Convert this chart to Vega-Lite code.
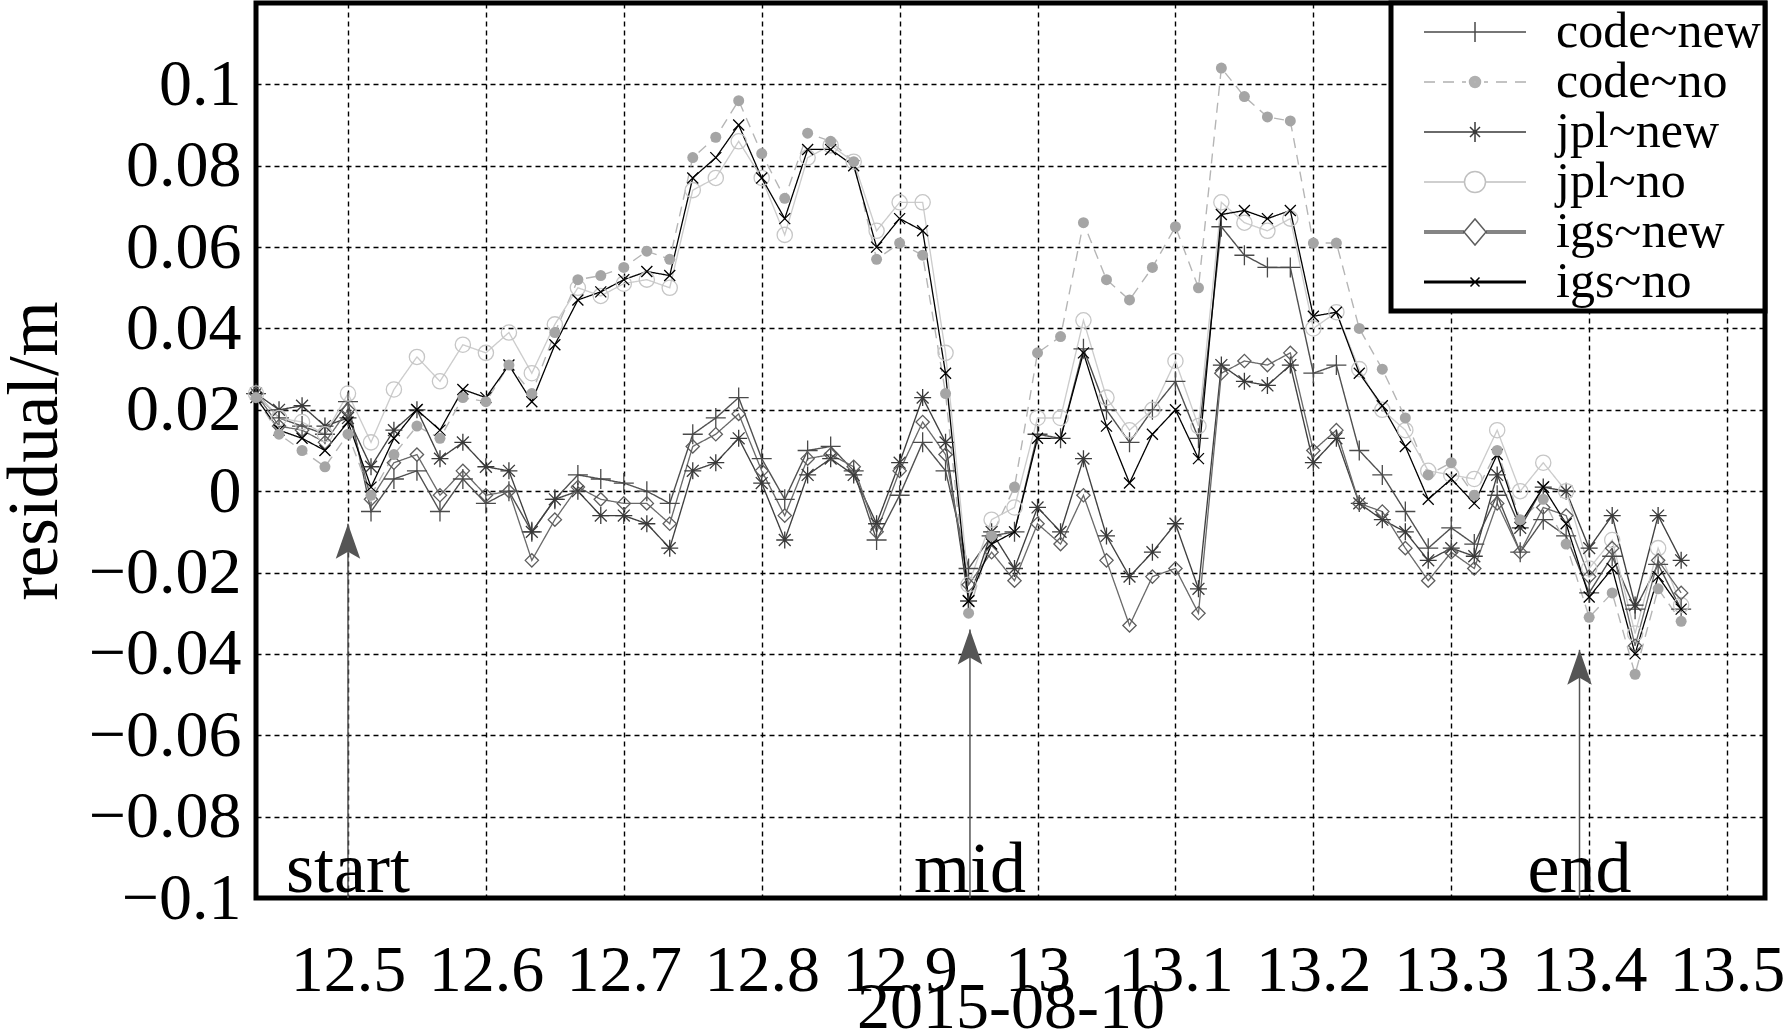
{
"$schema":"https://vega.github.io/schema/vega-lite/v6.json",
"width":1509,"height":895,
"autosize":{"type":"none"},
"padding":{"left":256,"top":3,"right":24,"bottom":133},
"background":"white",
"config":{
 "font":"Liberation Serif",
 "view":{"stroke":"#000","strokeWidth":5},
 "legend":{"strokeWidth":5},
 "axis":{"grid":true,"gridColor":"#000","gridDash":[5,4],"gridWidth":1.4,"gridOpacity":1,"domain":false,"ticks":false,"labelFont":"Liberation Serif","labelFontSize":66,"labelColor":"#000","titleFont":"Liberation Serif","titleFontWeight":"normal","titleColor":"#000"}
},
"datasets":{
"res":[
{"t":12.4333,"code~new":0.024,"code~no":0.023,"jpl~new":0.024,"jpl~no":0.024,"igs~new":0.024,"igs~no":0.023},
{"t":12.45,"code~new":0.018,"code~no":0.014,"jpl~new":0.020,"jpl~no":0.018,"igs~new":0.016,"igs~no":0.015},
{"t":12.4667,"code~new":0.016,"code~no":0.010,"jpl~new":0.021,"jpl~no":0.017,"igs~new":0.015,"igs~no":0.013},
{"t":12.4833,"code~new":0.014,"code~no":0.006,"jpl~new":0.016,"jpl~no":0.014,"igs~new":0.012,"igs~no":0.010},
{"t":12.5,"code~new":0.022,"code~no":0.014,"jpl~new":0.018,"jpl~no":0.024,"igs~new":0.020,"igs~no":0.017},
{"t":12.5167,"code~new":-0.005,"code~no":-0.001,"jpl~new":0.006,"jpl~no":0.012,"igs~new":-0.002,"igs~no":0.001},
{"t":12.5333,"code~new":0.003,"code~no":0.009,"jpl~new":0.015,"jpl~no":0.025,"igs~new":0.007,"igs~no":0.013},
{"t":12.55,"code~new":0.005,"code~no":0.016,"jpl~new":0.020,"jpl~no":0.033,"igs~new":0.009,"igs~no":0.020},
{"t":12.5667,"code~new":-0.005,"code~no":0.013,"jpl~new":0.008,"jpl~no":0.027,"igs~new":-0.001,"igs~no":0.015},
{"t":12.5833,"code~new":0.003,"code~no":0.023,"jpl~new":0.012,"jpl~no":0.036,"igs~new":0.005,"igs~no":0.025},
{"t":12.6,"code~new":-0.003,"code~no":0.022,"jpl~new":0.006,"jpl~no":0.034,"igs~new":-0.001,"igs~no":0.023},
{"t":12.6167,"code~new":0.000,"code~no":0.031,"jpl~new":0.005,"jpl~no":0.039,"igs~new":0.000,"igs~no":0.031},
{"t":12.6333,"code~new":-0.010,"code~no":0.024,"jpl~new":-0.010,"jpl~no":0.029,"igs~new":-0.017,"igs~no":0.022},
{"t":12.65,"code~new":-0.002,"code~no":0.039,"jpl~new":-0.002,"jpl~no":0.041,"igs~new":-0.007,"igs~no":0.036},
{"t":12.6667,"code~new":0.004,"code~no":0.052,"jpl~new":0.000,"jpl~no":0.050,"igs~new":0.001,"igs~no":0.047},
{"t":12.6833,"code~new":0.003,"code~no":0.053,"jpl~new":-0.006,"jpl~no":0.048,"igs~new":-0.002,"igs~no":0.049},
{"t":12.7,"code~new":0.002,"code~no":0.055,"jpl~new":-0.006,"jpl~no":0.051,"igs~new":-0.003,"igs~no":0.052},
{"t":12.7167,"code~new":0.000,"code~no":0.059,"jpl~new":-0.008,"jpl~no":0.052,"igs~new":-0.003,"igs~no":0.054},
{"t":12.7333,"code~new":-0.003,"code~no":0.057,"jpl~new":-0.014,"jpl~no":0.050,"igs~new":-0.008,"igs~no":0.053},
{"t":12.75,"code~new":0.014,"code~no":0.082,"jpl~new":0.005,"jpl~no":0.074,"igs~new":0.011,"igs~no":0.077},
{"t":12.7667,"code~new":0.018,"code~no":0.087,"jpl~new":0.007,"jpl~no":0.077,"igs~new":0.014,"igs~no":0.082},
{"t":12.7833,"code~new":0.023,"code~no":0.096,"jpl~new":0.013,"jpl~no":0.086,"igs~new":0.019,"igs~no":0.090},
{"t":12.8,"code~new":0.008,"code~no":0.083,"jpl~new":0.002,"jpl~no":0.077,"igs~new":0.005,"igs~no":0.077},
{"t":12.8167,"code~new":-0.002,"code~no":0.072,"jpl~new":-0.012,"jpl~no":0.063,"igs~new":-0.006,"igs~no":0.067},
{"t":12.8333,"code~new":0.010,"code~no":0.088,"jpl~new":0.004,"jpl~no":0.082,"igs~new":0.008,"igs~no":0.084},
{"t":12.85,"code~new":0.011,"code~no":0.086,"jpl~new":0.008,"jpl~no":0.085,"igs~new":0.009,"igs~no":0.084},
{"t":12.8667,"code~new":0.005,"code~no":0.081,"jpl~new":0.004,"jpl~no":0.081,"igs~new":0.006,"igs~no":0.080},
{"t":12.8833,"code~new":-0.012,"code~no":0.057,"jpl~new":-0.008,"jpl~no":0.064,"igs~new":-0.010,"igs~no":0.060},
{"t":12.9,"code~new":-0.001,"code~no":0.061,"jpl~new":0.007,"jpl~no":0.071,"igs~new":0.005,"igs~no":0.067},
{"t":12.9167,"code~new":0.012,"code~no":0.058,"jpl~new":0.023,"jpl~no":0.071,"igs~new":0.017,"igs~no":0.064},
{"t":12.9333,"code~new":0.005,"code~no":0.024,"jpl~new":0.012,"jpl~no":0.034,"igs~new":0.009,"igs~no":0.029},
{"t":12.95,"code~new":-0.019,"code~no":-0.030,"jpl~new":-0.027,"jpl~no":-0.023,"igs~new":-0.023,"igs~no":-0.027},
{"t":12.9667,"code~new":-0.011,"code~no":-0.011,"jpl~new":-0.010,"jpl~no":-0.007,"igs~new":-0.015,"igs~no":-0.013},
{"t":12.9833,"code~new":-0.010,"code~no":0.001,"jpl~new":-0.019,"jpl~no":-0.004,"igs~new":-0.022,"igs~no":-0.010},
{"t":13.0,"code~new":0.014,"code~no":0.034,"jpl~new":-0.004,"jpl~no":0.018,"igs~new":-0.008,"igs~no":0.013},
{"t":13.0167,"code~new":0.013,"code~no":0.038,"jpl~new":-0.010,"jpl~no":0.018,"igs~new":-0.013,"igs~no":0.013},
{"t":13.0333,"code~new":0.035,"code~no":0.066,"jpl~new":0.008,"jpl~no":0.042,"igs~new":-0.001,"igs~no":0.034},
{"t":13.05,"code~new":0.020,"code~no":0.052,"jpl~new":-0.011,"jpl~no":0.023,"igs~new":-0.017,"igs~no":0.016},
{"t":13.0667,"code~new":0.012,"code~no":0.047,"jpl~new":-0.021,"jpl~no":0.015,"igs~new":-0.033,"igs~no":0.002},
{"t":13.0833,"code~new":0.020,"code~no":0.055,"jpl~new":-0.015,"jpl~no":0.020,"igs~new":-0.021,"igs~no":0.014},
{"t":13.1,"code~new":0.027,"code~no":0.065,"jpl~new":-0.008,"jpl~no":0.032,"igs~new":-0.019,"igs~no":0.020},
{"t":13.1167,"code~new":0.013,"code~no":0.050,"jpl~new":-0.024,"jpl~no":0.016,"igs~new":-0.030,"igs~no":0.008},
{"t":13.1333,"code~new":0.065,"code~no":0.104,"jpl~new":0.031,"jpl~no":0.071,"igs~new":0.029,"igs~no":0.068},
{"t":13.15,"code~new":0.058,"code~no":0.097,"jpl~new":0.027,"jpl~no":0.066,"igs~new":0.032,"igs~no":0.069},
{"t":13.1667,"code~new":0.055,"code~no":0.092,"jpl~new":0.026,"jpl~no":0.064,"igs~new":0.031,"igs~no":0.067},
{"t":13.1833,"code~new":0.055,"code~no":0.091,"jpl~new":0.031,"jpl~no":0.067,"igs~new":0.034,"igs~no":0.069},
{"t":13.2,"code~new":0.029,"code~no":0.061,"jpl~new":0.007,"jpl~no":0.040,"igs~new":0.010,"igs~no":0.043},
{"t":13.2167,"code~new":0.031,"code~no":0.061,"jpl~new":0.013,"jpl~no":0.044,"igs~new":0.015,"igs~no":0.044},
{"t":13.2333,"code~new":0.010,"code~no":0.040,"jpl~new":-0.003,"jpl~no":0.030,"igs~new":-0.003,"igs~no":0.029},
{"t":13.25,"code~new":0.004,"code~no":0.030,"jpl~new":-0.007,"jpl~no":0.020,"igs~new":-0.005,"igs~no":0.021},
{"t":13.2667,"code~new":-0.005,"code~no":0.018,"jpl~new":-0.010,"jpl~no":0.015,"igs~new":-0.014,"igs~no":0.011},
{"t":13.2833,"code~new":-0.014,"code~no":0.004,"jpl~new":-0.017,"jpl~no":0.005,"igs~new":-0.022,"igs~no":-0.002},
{"t":13.3,"code~new":-0.009,"code~no":0.007,"jpl~new":-0.014,"jpl~no":0.004,"igs~new":-0.015,"igs~no":0.003},
{"t":13.3167,"code~new":-0.013,"code~no":-0.001,"jpl~new":-0.016,"jpl~no":0.003,"igs~new":-0.019,"igs~no":-0.003},
{"t":13.3333,"code~new":-0.001,"code~no":0.010,"jpl~new":0.004,"jpl~no":0.015,"igs~new":-0.003,"igs~no":0.009},
{"t":13.35,"code~new":-0.015,"code~no":-0.007,"jpl~new":-0.009,"jpl~no":0.000,"igs~new":-0.015,"igs~no":-0.008},
{"t":13.3667,"code~new":-0.007,"code~no":-0.002,"jpl~new":0.001,"jpl~no":0.007,"igs~new":-0.004,"igs~no":0.001},
{"t":13.3833,"code~new":-0.011,"code~no":-0.013,"jpl~new":0.000,"jpl~no":0.000,"igs~new":-0.006,"igs~no":-0.008},
{"t":13.4,"code~new":-0.025,"code~no":-0.031,"jpl~new":-0.014,"jpl~no":-0.019,"igs~new":-0.021,"igs~no":-0.026},
{"t":13.4167,"code~new":-0.016,"code~no":-0.025,"jpl~new":-0.006,"jpl~no":-0.012,"igs~new":-0.014,"igs~no":-0.019},
{"t":13.4333,"code~new":-0.029,"code~no":-0.045,"jpl~new":-0.028,"jpl~no":-0.035,"igs~new":-0.038,"igs~no":-0.040},
{"t":13.45,"code~new":-0.018,"code~no":-0.024,"jpl~new":-0.006,"jpl~no":-0.014,"igs~new":-0.017,"igs~no":-0.021},
{"t":13.4667,"code~new":-0.029,"code~no":-0.032,"jpl~new":-0.017,"jpl~no":-0.028,"igs~new":-0.025,"igs~no":-0.029}
],
"ann":[
{"label":"start","t":12.5,"v":-0.008},
{"label":"mid","t":12.951,"v":-0.034},
{"label":"end","t":13.393,"v":-0.039}
]
},
"encoding":{
 "x":{"field":"t","type":"quantitative","scale":{"domain":[12.4333,13.5275],"nice":false,"zero":false},
  "axis":{"values":[12.5,12.6,12.7,12.8,12.9,13,13.1,13.2,13.3,13.4,13.5],"format":".1~f","title":"2015-08-10","titleFontSize":66,"titleBaseline":"alphabetic","titleY":129,"labelPadding":40,"labelFlush":false,"labelOverlap":false}},
 "y":{"field":"v","type":"quantitative","scale":{"domain":[-0.1,0.12],"nice":false,"zero":false},
  "axis":{"values":[-0.1,-0.08,-0.06,-0.04,-0.02,0,0.02,0.04,0.06,0.08,0.1],"format":".2~f","title":"residual/m","titleFontSize":71,"labelPadding":15,"titlePadding":17,"labelOverlap":false}}
},
"layer":[
 {"data":{"name":"res"},
  "transform":[{"fold":["code~new","code~no","jpl~new","jpl~no","igs~new","igs~no"],"as":["series","v"]}],
  "mark":{"type":"line","interpolate":"linear"},
  "encoding":{
   "color":{"field":"series","type":"nominal","scale":{"domain":["code~new","code~no","jpl~new","jpl~no","igs~new","igs~no"],"range":["#505050","#b5b5b5","#404040","#cccccc","#6a6a6a","#000000"]},"legend":null},
   "strokeDash":{"field":"series","type":"nominal","scale":{"domain":["code~new","code~no","jpl~new","jpl~no","igs~new","igs~no"],"range":[[1,0],[10,7],[1,0],[1,0],[1,0],[1,0]]},"legend":null},
   "strokeWidth":{"field":"series","type":"nominal","scale":{"domain":["code~new","code~no","jpl~new","jpl~no","igs~new","igs~no"],"range":[1.4,1.3,1.4,1.2,1.8,2.2]},"legend":null}
  }},
 {"data":{"name":"res"},
  "transform":[{"fold":["code~new","code~no","jpl~new","jpl~no","igs~new","igs~no"],"as":["series","v"]},{"filter":"datum.series !== 'code~no'"}],
  "mark":{"type":"point","filled":false,"strokeWidth":1.3,"opacity":1},
  "encoding":{
   "color":{"field":"series","type":"nominal","scale":{"domain":["code~new","code~no","jpl~new","jpl~no","igs~new","igs~no"],"range":["#4a4a4a","#a5a5a5","#3a3a3a","#c6c6c6","#5e5e5e","#000000"]},"legend":null},
   "shape":{"field":"series","type":"nominal","scale":{"domain":["code~new","code~no","jpl~new","jpl~no","igs~new","igs~no"],"range":["M-1,0L1,0M0,-1L0,1","circle","M-1,0L1,0M0,-1L0,1M-0.7,-0.7L0.7,0.7M-0.7,0.7L0.7,-0.7","circle","diamond","M-1,-1L1,1M-1,1L1,-1"]},"legend":null},
   "size":{"field":"series","type":"nominal","scale":{"domain":["code~new","code~no","jpl~new","jpl~no","igs~new","igs~no"],"range":[400,121,361,529,484,144]},"legend":null}
  }},
 {"data":{"name":"res"},
  "transform":[{"fold":["code~new","code~no","jpl~new","jpl~no","igs~new","igs~no"],"as":["series","v"]},{"filter":"datum.series === 'code~no'"}],
  "mark":{"type":"point","filled":true,"shape":"circle","size":121,"color":"#a5a5a5","opacity":1}},
 {"data":{"name":"ann"},
  "mark":{"type":"rule","color":"#555555","strokeWidth":1.5},
  "encoding":{"y2":{"datum":-0.1}}},
 {"data":{"name":"ann"},
  "mark":{"type":"point","filled":true,"shape":"M0,0L0.7,2L0,1.6L-0.7,2Z","size":1225,"color":"#555555","opacity":1}},
 {"data":{"name":"ann"},
  "mark":{"type":"text","font":"Liberation Serif","fontSize":72,"color":"#000000","baseline":"alphabetic","align":"center","dy":-6},
  "encoding":{"text":{"field":"label"},"y":{"datum":-0.1}}},
 {"data":{"name":"res"},
  "transform":[{"fold":["code~new","code~no","jpl~new","jpl~no","igs~new","igs~no"],"as":["series","v"]}],
  "mark":{"type":"point","filled":false,"size":0,"opacity":1},
  "encoding":{
   "color":{"field":"series","type":"nominal","scale":{"domain":["code~new","code~no","jpl~new","jpl~no","igs~new","igs~no"],"range":["#4a4a4a","#b0b0b0","#3a3a3a","#c0c0c0","#5e5e5e","#000000"]},
     "legend":{"title":null,"orient":"top-right","offset":0,"padding":4,"fillColor":"#ffffff","strokeColor":"#000000","symbolSize":400,"symbolStrokeWidth":1.5,"symbolOpacity":1,"symbolOffset":55,"labelOffset":56,"labelFont":"Liberation Serif","labelFontSize":50,"labelColor":"#000000","labelLimit":0,"rowPadding":0}},
   "shape":{"field":"series","type":"nominal","scale":{"domain":["code~new","code~no","jpl~new","jpl~no","igs~new","igs~no"],"range":[
     "M-5.1,0L5.1,0M0,-1L0,1",
     "M-5.1,0L-4,0M-3.2,0L-2.1,0M-1.3,0L-0.9,0M0.9,0L1.3,0M2.1,0L3.2,0M4,0L5.1,0M-0.55,0A0.55 0.55 0 1 0 0.55,0A0.55 0.55 0 1 0 -0.55,0M-0.4,0A0.4 0.4 0 1 0 0.4,0A0.4 0.4 0 1 0 -0.4,0M-0.25,0A0.25 0.25 0 1 0 0.25,0A0.25 0.25 0 1 0 -0.25,0M-0.1,0A0.1 0.1 0 1 0 0.1,0A0.1 0.1 0 1 0 -0.1,0",
     "M-5.1,0L5.1,0M0,-1L0,1M-0.5,-0.5L0.5,0.5M-0.5,0.5L0.5,-0.5",
     "M-5.1,0L-1.05,0M1.05,0L5.1,0M-1.05,0A1.05 1.05 0 1 0 1.05,0A1.05 1.05 0 1 0 -1.05,0",
     "M-5.1,-0.1L-1.1,-0.1M-5.1,0.1L-1.1,0.1M1.1,-0.1L5.1,-0.1M1.1,0.1L5.1,0.1M-1.1,0L0,-1.3L1.1,0L0,1.3Z",
     "M-5.1,-0.07L5.1,-0.07M-5.1,0.07L5.1,0.07M-0.45,-0.45L0.45,0.45M-0.45,0.45L0.45,-0.45"]},
     "legend":{"title":null,"orient":"top-right","offset":0,"padding":4,"fillColor":"#ffffff","strokeColor":"#000000","symbolSize":400,"symbolStrokeWidth":1.5,"symbolOpacity":1,"symbolOffset":55,"labelOffset":56,"labelFont":"Liberation Serif","labelFontSize":50,"labelColor":"#000000","labelLimit":0,"rowPadding":0}}
  }}
],
"resolve":{"scale":{"color":"independent","shape":"independent","size":"independent","strokeDash":"independent","strokeWidth":"independent"}}
}
